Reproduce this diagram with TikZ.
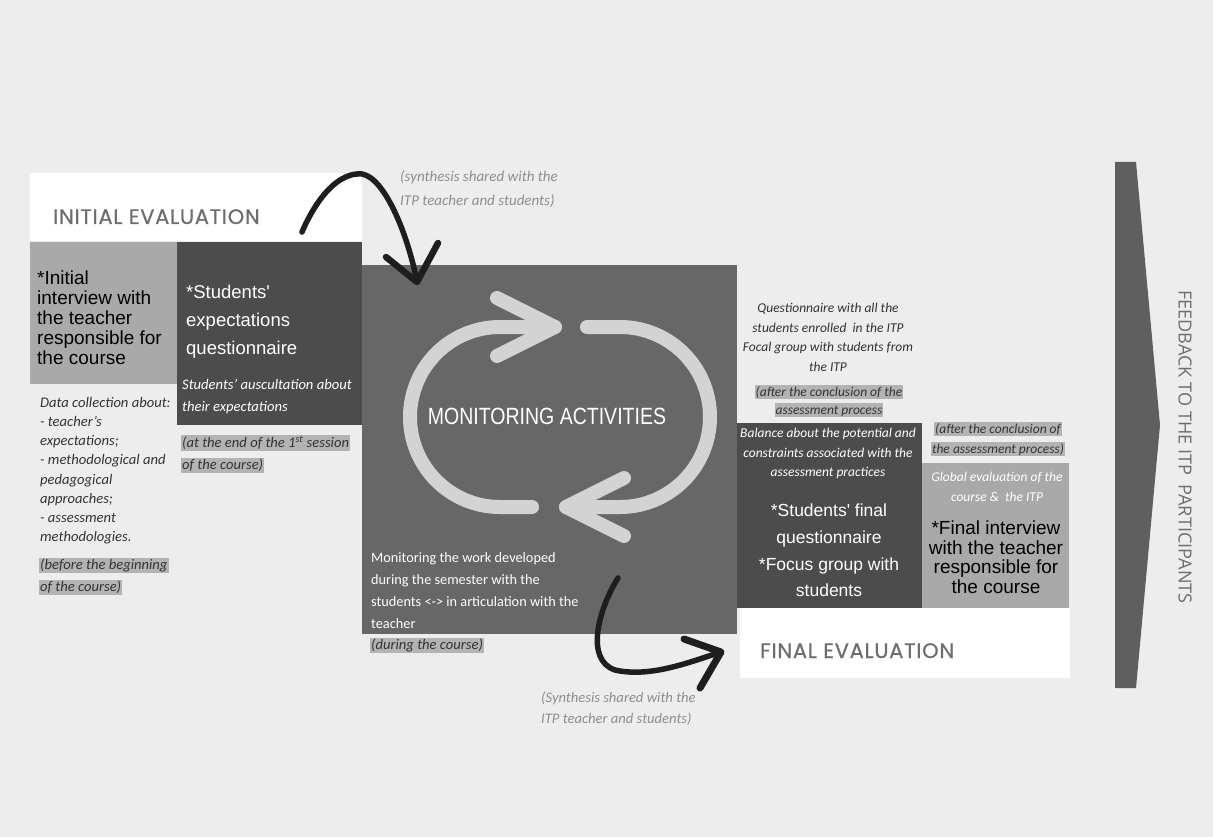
\documentclass[tikz,border=0pt]{standalone}
\usepackage{fontspec}
\setmainfont{Liberation Sans}
\newfontfamily\headfont[FakeBold=0.7,LetterSpace=3.5]{Poppins}
\newfontfamily\notefont{Carlito}
\newfontfamily\narrowfont[FakeStretch=0.83]{Liberation Sans}
\newfontfamily\sidefont{Open Sans}
\usetikzlibrary{calc}

\definecolor{paper}{HTML}{EDEDED}
\definecolor{lightbox}{HTML}{A9A9A9}
\definecolor{darkbox}{HTML}{4C4C4C}
\definecolor{midbox}{HTML}{676767}
\definecolor{markgray}{HTML}{B3B3B3}
\definecolor{cyclegray}{HTML}{D3D3D3}
\definecolor{headgray}{HTML}{6E6E6E}
\definecolor{notegray}{HTML}{8E8E8E}
\definecolor{inkgray}{HTML}{333333}
\definecolor{ink}{HTML}{1E1E1E}

% grey marker behind the "when" notes
\newcommand\when[1]{{\setlength{\fboxsep}{1pt}\colorbox{markgray}{\vphantom{(g}#1}}}

\tikzset{
  block/.style={anchor=north west,inner sep=0pt,outer sep=0pt},
  notes/.style={inner sep=0pt,font=\notefont\itshape\fontsize{13.5}{#1}\selectfont},
  notes/.default=19.5,
  leftnotes/.style={inner sep=0pt,font=\notefont\itshape\fontsize{14.6}{#1}\selectfont},
  leftnotes/.default=19.5,
  bigtext/.style={inner sep=0pt,font=\fontsize{19}{#1}\selectfont},
  bigtext/.default=20,
  title/.style={anchor=base west,inner sep=0pt,text=headgray,font=\headfont\fontsize{21}{24}\selectfont},
  handarrow/.style={draw=ink,line width=5.5pt,line cap=round,line join=round},
  cyclearc/.style={draw=cyclegray,line width=14pt,line cap=round,line join=round},
}

\begin{document}
\begin{tikzpicture}[x=1pt,y=-1pt]
\useasboundingbox (0,0) rectangle (1213,837);
\fill[paper] (0,0) rectangle (1213,837);

% white title panels
\node[block,fill=white,minimum width=332pt,minimum height=68pt] (initpanel) at (30,173) {};
\node[block,fill=white,minimum width=330pt,minimum height=70pt] (finalpanel) at (740,608) {};
\node[title] (inithead) at (53,224) {INITIAL EVALUATION};
\node[title] (finalhead) at (760,658) {FINAL EVALUATION};

% the blocks
\node[block,fill=lightbox,minimum width=147pt,minimum height=142pt] (interview) at (30,242) {};
\node[block,fill=darkbox,minimum width=185pt,minimum height=183pt] (expect) at (177,242) {};
\node[block,fill=midbox,minimum width=375pt,minimum height=369pt] (monitor) at (362,265) {};
\node[block,fill=darkbox,minimum width=185pt,minimum height=185pt] (studfinal) at (737,423) {};
\node[block,fill=lightbox,minimum width=147pt,minimum height=145pt] (teachfinal) at (922,463) {};

% initial evaluation
\node[bigtext,anchor=north west,align=left] (interviewtxt) at (37,271) {*Initial\\interview with\\the teacher\\responsible for\\the course};
\node[inner sep=0pt,anchor=north west,align=left,text=white,font=\fontsize{18.5}{28}\selectfont] (expecttxt) at (186,284.5) {*Students\textquotesingle\\expectations\\questionnaire};
\node[leftnotes=22,anchor=north west,align=left,text=white] (auscult) at (182,379) {Students’ auscultation about\\their expectations};
\node[leftnotes=19.2,anchor=north west,align=left,text=inkgray] (datatxt) at (40,397) {Data collection about:\\- teacher’s\\expectations;\\- methodological and\\pedagogical\\approaches;\\- assessment\\methodologies.};
\node[leftnotes=21.5,anchor=north west,align=left,text=inkgray] (beforetxt) at (39,558) {\when{(before the beginning}\\\when{of the course)}};
\node[leftnotes=22,anchor=north west,align=left,text=inkgray] (firsttxt) at (181,435) {\when{(at the end of the 1\textsuperscript{st} session}\\\when{of the course)}};

% monitoring cycle
\draw[cyclearc] (555,327) -- (500,327) arc[start angle=90,end angle=270,radius=90pt] -- (532,507);
\draw[cyclearc] (497,298) -- (555,327) -- (497,356);
\draw[cyclearc] (587,327) -- (620,327) arc[start angle=90,end angle=-90,radius=90pt] -- (566,507);
\draw[cyclearc] (624,478) -- (566,507) -- (624,536);
\node[inner sep=0pt,text=white,font=\narrowfont\fontsize{23.5}{28}\selectfont] (monhead) at (547,416.5) {MONITORING ACTIVITIES};
\node[inner sep=0pt,anchor=north west,align=left,text=white,font=\notefont\fontsize{14.3}{22}\selectfont] (montxt) at (371,552) {Monitoring the work developed\\during the semester with the\\students <-> in articulation with the\\teacher};
\node[leftnotes,anchor=north west,text=inkgray] (duringtxt) at (370,638) {\when{(during the course)}};

% synthesis notes and hand drawn arrows
\node[inner sep=0pt,font=\notefont\itshape\fontsize{15}{24}\selectfont,anchor=north west,align=left,text=notegray] (synthtop) at (400,170) {(synthesis shared with the\\ITP teacher and students)};
\node[leftnotes=21,anchor=north west,align=left,text=notegray] (synthbot) at (541,692) {(Synthesis shared with the\\ITP teacher and students)};
\coordinate (topstart) at (302,232);
\coordinate (toptip) at (417,282);
\coordinate (botstart) at (618,578);
\coordinate (bottip) at (721,652);
\draw[handarrow] (topstart) .. controls (318,195) and (340,172) .. (362,174) .. controls (385,178) and (408,235) .. (toptip);
\draw[handarrow,line width=6.5pt] (386,257) -- (toptip) -- (438,243);
\draw[handarrow] (botstart) .. controls (598,610) and (585,660) .. (615,670) .. controls (650,678) and (690,662) .. (bottip);
\draw[handarrow,line width=7pt] (684,639) -- (bottip) -- (700,688);

% final evaluation
\node[notes,anchor=north,align=center,text=inkgray] (surveytxt) at (828,303) {Questionnaire with all the\\students enrolled~ in the ITP\\Focal group with students from\\the ITP};
\node[notes=18,anchor=north,align=center,text=inkgray] (afterone) at (829,385) {\when{(after the conclusion of the}\\\when{assessment process}};
\node[notes=20,anchor=north,align=center,text=inkgray] (aftertwo) at (998,422) {\when{(after the conclusion of}\\\when{the assessment process)}};
\node[notes,anchor=north,align=center,text=white] (balancetxt) at (828,428) {Balance about the potential and\\constraints associated with the\\assessment practices};
\node[inner sep=0pt,anchor=north,align=center,text=white,font=\fontsize{17.5}{26.7}\selectfont] (studfinaltxt) at (829,504) {*Students\textquotesingle{} final\\questionnaire\\*Focus group with\\students};
\node[notes=20,anchor=north,align=center,text=white] (globaltxt) at (997,472) {Global evaluation of the\\course \&~ the ITP};
\node[bigtext=19.4,anchor=north,align=center] (teachfinaltxt) at (996,521) {*Final interview\\with the teacher\\responsible for\\the course};

% feedback arrow
\fill[midbox!92!black] (1115,162) -- (1136,162) -- (1160,425) -- (1136,688) -- (1115,688) -- cycle;
\node[rotate=-90,inner sep=0pt,text=headgray,font=\sidefont\fontsize{18.1}{20}\selectfont] (feedtxt) at (1185,447) {FEEDBACK TO THE ITP~ PARTICIPANTS};
\end{tikzpicture}
\end{document}
